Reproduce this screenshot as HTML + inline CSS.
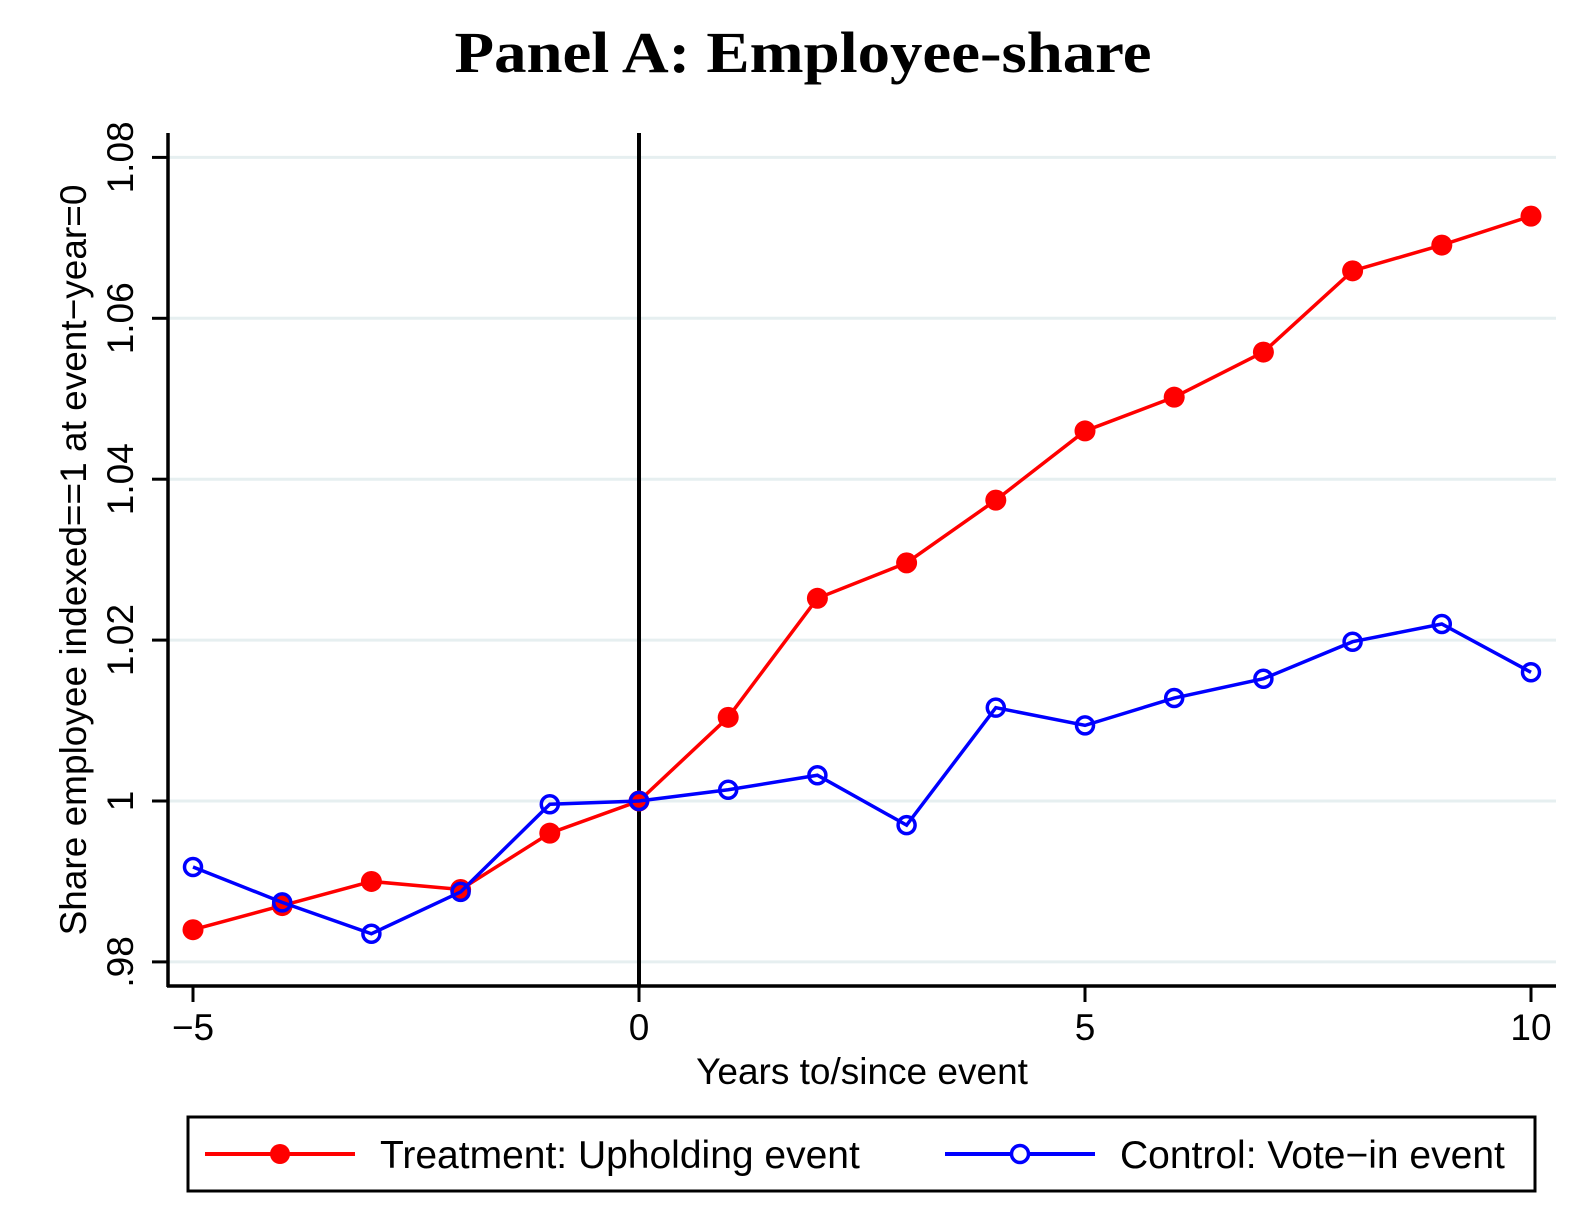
<!DOCTYPE html>
<html><head><meta charset="utf-8"><style>
body{margin:0;background:#fff;}
svg{display:block;font-family:"Liberation Sans",sans-serif;}
</style></head><body>
<svg id="chart" width="1591" height="1227" viewBox="0 0 1591 1227">
<text x="803" y="72" text-anchor="middle" font-family="Liberation Serif,serif" font-weight="bold" font-size="58" textLength="697" lengthAdjust="spacingAndGlyphs">Panel A: Employee-share</text>
<g id="grid"></g>
<g id="yaxis"></g>
<g id="xaxis"></g>
<g id="series"></g>
<text transform="translate(86,560) rotate(-90)" text-anchor="middle" font-size="37">Share employee indexed==1 at event−year=0</text>
<text x="862" y="1084" text-anchor="middle" font-size="37">Years to/since event</text>
<g>
<rect x="188" y="1117" width="1347" height="74" fill="#fff" stroke="#000" stroke-width="3"/>
<g>
<line x1="205" y1="1154" x2="355" y2="1154" stroke="#f00" stroke-width="4"/>
<circle cx="280" cy="1154" r="10" fill="#f00"/>
<text x="380" y="1168" font-size="39">Treatment: Upholding event</text></g>
<g>
<line x1="945" y1="1154" x2="1095" y2="1154" stroke="#00f" stroke-width="4"/>
<circle cx="1020" cy="1154" r="8.5" fill="#fff" stroke="#00f" stroke-width="3.5"/>
<text x="1120" y="1168" font-size="39">Control: Vote−in event</text></g>
</g>
</svg>
<script>
const years=[-5,-4,-3,-2,-1,0,1,2,3,4,5,6,7,8,9,10];
const treatment=[0.984,0.987,0.990,0.989,0.996,1,1.0104,1.0252,1.0296,1.0374,1.046,1.0502,1.0558,1.0659,1.0691,1.0727];
const control=[0.9918,0.9874,0.9835,0.9887,0.9996,1,1.0014,1.0032,0.997,1.0116,1.0094,1.0128,1.0152,1.0198,1.022,1.016];
const yTicks=[0.98,1,1.02,1.04,1.06,1.08];
const yTickLabels=[".98","1","1.02","1.04","1.06","1.08"];
const xTicks=[-5,0,5,10];
const xTickLabels=["−5","0","5","10"];
const NS="http://www.w3.org/2000/svg";
const X=v=>639+(v)*89.2;
const Y=v=>801-(v-1)*8045;
function mk(t,a,p){const e=document.createElementNS(NS,t);for(const k in a)e.setAttribute(k,a[k]);p.appendChild(e);return e;}
const grid=document.getElementById('grid'),ya=document.getElementById('yaxis'),xa=document.getElementById('xaxis'),se=document.getElementById('series');
yTicks.forEach((v,i)=>{
 const g=mk('line',{x1:168,x2:1556,y1:Y(v),y2:Y(v),stroke:'#e6eff0','stroke-width':3},grid);
 
 
 const t=mk('line',{x1:152,x2:168,y1:Y(v),y2:Y(v),stroke:'#000','stroke-width':3},ya);
 
 
 const l=mk('text',{transform:`translate(133,${Y(v)}) rotate(-90)`,'text-anchor':'middle','font-size':37},ya);
 l.textContent=yTickLabels[i];
 
 
});
mk('line',{x1:168,x2:168,y1:133,y2:987,stroke:'#000','stroke-width':3.5},ya);
mk('line',{x1:167,x2:1556,y1:986,y2:986,stroke:'#000','stroke-width':3.5},xa);
xTicks.forEach((v,i)=>{
 const t=mk('line',{x1:X(v),x2:X(v),y1:986,y2:1002,stroke:'#000','stroke-width':3},xa);
 
 
 const l=mk('text',{x:X(v),y:1040,'text-anchor':'middle','font-size':37},xa);
 l.textContent=xTickLabels[i];
 
 
});
const vl=mk('line',{x1:X(0),x2:X(0),y1:133,y2:986,stroke:'#000','stroke-width':4},se);


function draw(vals,col,filled,name){
 const p=mk('polyline',{points:vals.map((v,i)=>X(years[i])+','+Y(v)).join(' '),fill:'none',stroke:col,'stroke-width':3.5},se);
 
 
 vals.forEach((v,i)=>{
  const c=mk('circle',filled?{cx:X(years[i]),cy:Y(v),r:10.5,fill:col}:{cx:X(years[i]),cy:Y(v),r:8.5,fill:'none',stroke:col,'stroke-width':3.5},se);
  
  
 });
}
draw(treatment,'#f00',true,'treatment');
draw(control,'#00f',false,'control');
</script>
</body></html>
